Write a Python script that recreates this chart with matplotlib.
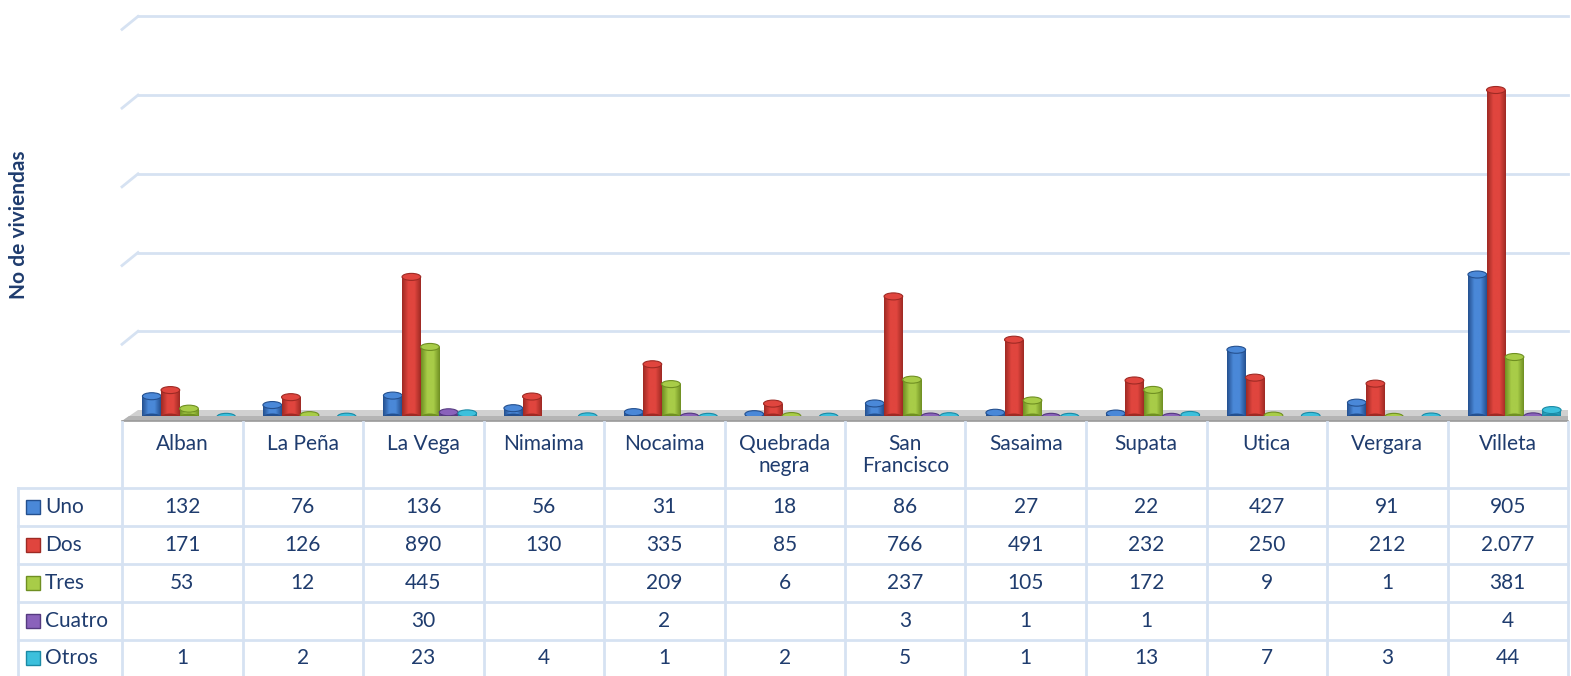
import matplotlib.pyplot as plt
import matplotlib.transforms as mtransforms
from matplotlib.patches import Ellipse, Polygon, Rectangle
from matplotlib.lines import Line2D
from matplotlib.colors import LinearSegmentedColormap
import numpy as np

# datos
municipios = ['Alban', 'La Peña', 'La Vega', 'Nimaima', 'Nocaima', 'Quebrada\nnegra',
              'San\nFrancisco', 'Sasaima', 'Supata', 'Utica', 'Vergara', 'Villeta']
uno = [132, 76, 136, 56, 31, 18, 86, 27, 22, 427, 91, 905]
dos = [171, 126, 890, 130, 335, 85, 766, 491, 232, 250, 212, 2077]
tres = [53, 12, 445, None, 209, 6, 237, 105, 172, 9, 1, 381]
cuatro = [None, None, 30, None, 2, None, 3, 1, 1, None, None, 4]
otros = [1, 2, 23, 4, 1, 2, 5, 1, 13, 7, 3, 44]

series = ['Uno', 'Dos', 'Tres', 'Cuatro', 'Otros']
valores = [uno, dos, tres, cuatro, otros]
# (oscuro, claro) para el degradado de cada cilindro
colores = [('#24508f', '#4a88d8'), ('#9e2a24', '#e0453e'), ('#6f8f22', '#a8cc48'),
           ('#553a80', '#8a62bb'), ('#1b8aa5', '#3cc0dc')]
grid_vals = [500, 1000, 1500, 2000, 2500]

W, H = 1571, 676
txt = '#1f3c6e'
lin = '#d6e2f2'
plt.rcParams['font.family'] = ['Lato', 'DejaVu Sans']

fig = plt.figure(figsize=(W / 100, H / 100), dpi=100)


def fx(px):
    return px / W


def fy(py):
    return 1 - py / H


# area del grafico
x0, x1 = 122, 1568
ytop, ybase = 10, 417
escala = 327 / 2077  # px por vivienda
ax = fig.add_axes([fx(x0), fy(ybase), fx(x1 - x0), (ybase - ytop) / H])
ax.axis('off')

# piso gris con degradado
piso = Polygon([(fx(122), fy(421)), (fx(138), fy(410)), (fx(1568), fy(410)), (fx(1568), fy(421))],
               closed=True, transform=fig.transFigure, facecolor='#d0d0d0', edgecolor='none', zorder=0)
fig.add_artist(piso)
fig.add_artist(Polygon([(fx(122), fy(421)), (fx(129), fy(416)), (fx(1568), fy(416)), (fx(1568), fy(421))],
                       closed=True, transform=fig.transFigure, facecolor='#b4b4b4', edgecolor='none'))
fig.add_artist(Line2D([fx(122), fx(1568)], [fy(421), fy(421)], transform=fig.transFigure,
                      color='#9a9a9a', lw=1.2))

# lineas de cuadricula (pared del fondo, 7 px mas arriba que la base de las barras)
trans_g = mtransforms.offset_copy(ax.transData, fig=fig, x=0, y=7, units='dots')
for g in grid_vals:
    ypx = ybase - 7 - g * escala
    ax.plot([-0.5 + 16 / 120.5, len(municipios) - 0.5], [g, g], color=lin, lw=2,
            transform=trans_g, clip_on=False, zorder=0)
    fig.add_artist(Line2D([fx(122), fx(138)], [fy(ypx + 13), fy(ypx)],
                          transform=fig.transFigure, color=lin, lw=2))

# cilindros
ancho = 0.155
paso = 0.1545
inicio = -0.253
elip_h = 7 / escala
grad = np.linspace(0, 1, 64).reshape(1, -1)
for k, (vals, (c_osc, c_cla)) in enumerate(zip(valores, colores)):
    cmap = LinearSegmentedColormap.from_list('c%d' % k, [c_osc, c_cla, c_cla, c_osc])
    for i, v in enumerate(vals):
        if v is None:
            continue
        xc = i + inicio + k * paso
        barra = ax.bar(xc, v, width=ancho, color=c_cla, edgecolor='none', zorder=2 + k)[0]
        im = ax.imshow(grad, cmap=cmap, extent=(xc - ancho / 2, xc + ancho / 2, 0, max(v, 1)),
                       aspect='auto', zorder=2 + k)
        im.set_clip_path(barra)
        ax.add_patch(Ellipse((xc, 0), ancho, elip_h, facecolor=c_osc, edgecolor='none', zorder=2 + k))
        ax.add_patch(Ellipse((xc, v), ancho, elip_h, facecolor=c_cla, edgecolor=c_osc,
                             lw=0.8, zorder=2 + k))
ax.set_xlim(-0.5, len(municipios) - 0.5)
ax.set_ylim(0, (ybase - ytop) / escala)

# titulo del eje
fig.text(fx(19), fy(225), 'No de viviendas', rotation=90, ha='center', va='center',
         fontsize=15, fontweight='bold', color=txt)

# tabla de datos
filas = [488, 526, 564, 602, 640, 676]
col_w = (x1 - x0) / len(municipios)


def linea(xa, xb, ya, yb):
    fig.add_artist(Line2D([fx(xa), fx(xb)], [fy(ya), fy(yb)], transform=fig.transFigure,
                          color=lin, lw=2))


linea(18, 18, 488, 676)
for j in range(len(municipios) + 1):
    linea(x0 + j * col_w, x0 + j * col_w, 422, 676)
for r in filas[:-1]:
    linea(18, x1, r, r)

for j, m in enumerate(municipios):
    fig.text(fx(x0 + (j + 0.5) * col_w), fy(434), m, ha='center', va='top',
             fontsize=15, color=txt, linespacing=1.15)

for k, (nombre, vals, (c_osc, c_cla)) in enumerate(zip(series, valores, colores)):
    yc = (filas[k] + filas[k + 1]) / 2
    fig.add_artist(Rectangle((fx(26), fy(yc + 7)), fx(14), 14 / H, transform=fig.transFigure,
                             facecolor=c_cla, edgecolor=c_osc, lw=1))
    fig.text(fx(45), fy(yc), nombre, ha='left', va='center', fontsize=15, color=txt)
    for j, v in enumerate(vals):
        if v is None:
            continue
        s = '{:,}'.format(v).replace(',', '.')
        fig.text(fx(x0 + (j + 0.5) * col_w), fy(yc), s, ha='center', va='center',
                 fontsize=15, color=txt)

fig.savefig('out.png', dpi=100)
